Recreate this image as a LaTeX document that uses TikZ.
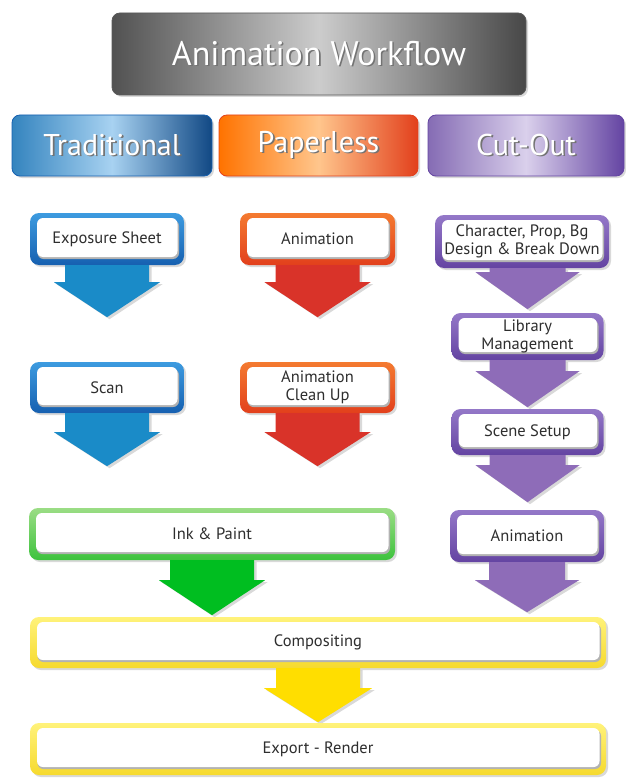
\documentclass[tikz,border=0pt]{standalone}
\usepackage{fontspec}
\setmainfont{PT Sans}
\usetikzlibrary{shadows,calc}

\definecolor{textgray}{HTML}{2E2E2E}
\definecolor{blueA}{HTML}{3D9BE0}
\definecolor{blueB}{HTML}{1660B0}
\definecolor{bluearrow}{HTML}{1A8BC8}
\definecolor{redA}{HTML}{F47A30}
\definecolor{redB}{HTML}{E2401C}
\definecolor{redarrow}{HTML}{D93329}
\definecolor{purpA}{HTML}{9478C8}
\definecolor{purpB}{HTML}{6444A2}
\definecolor{purparrow}{HTML}{8E6CB8}
\definecolor{greenA}{HTML}{9BDD85}
\definecolor{greenB}{HTML}{3DC23D}
\definecolor{greenarrow}{HTML}{00BE20}
\definecolor{yellowA}{HTML}{FFF27A}
\definecolor{yellowB}{HTML}{F6DA2E}
\definecolor{yellowarrow}{HTML}{FFDE00}

\newcommand{\shadowtext}[1]{\rlap{\hspace{1.6pt}\raisebox{-1.6pt}{\textcolor{black!55}{#1}}}#1}
% block arrow under a box: start, colour, half shaft, half head, shaft length, head length
\newcommand{\flowarrow}[6]{%
  \fill[#2, arrowshadow] (#1) ++(-#3,0) -- ++(0,#5) -- ++({#3-#4},0) -- ++(#4,#6)
    -- ++(#4,-#6) -- ++({#3-#4},0) -- ++(0,-#5) -- cycle;}

\begin{document}
\begin{tikzpicture}[x=1pt,y=-1pt,
  arrowshadow/.style={drop shadow={shadow xshift=2.5pt,shadow yshift=-2pt,opacity=.3}},
  hdrbox/.style={rectangle, rounded corners=8pt, text=white, line width=.8pt,
    drop shadow={shadow xshift=2pt,shadow yshift=-2pt,opacity=.3}},
  stepbox/.style={rectangle, rounded corners=9pt, inner sep=0pt, align=center,
    text=textgray, font=\fontsize{16.5}{17.5}\selectfont,
    drop shadow={shadow xshift=2pt,shadow yshift=-2pt,opacity=.3},
    path picture={
      \fill[black!30, rounded corners=6pt] ([shift={(7.5pt,-7pt)}]path picture bounding box.north west)
        rectangle ([shift={(-5pt,6pt)}]path picture bounding box.south east);
      \fill[white, rounded corners=6pt] ([shift={(7pt,-5pt)}]path picture bounding box.north west)
        rectangle ([shift={(-6.5pt,8pt)}]path picture bounding box.south east);}},
  bluebox/.style={stepbox, top color=blueA, bottom color=blueB},
  redbox/.style={stepbox, top color=redA, bottom color=redB},
  purpbox/.style={stepbox, top color=purpA, bottom color=purpB},
  greenbox/.style={stepbox, top color=greenA, bottom color=greenB},
  yellowbox/.style={stepbox, top color=yellowA, bottom color=yellowB}]
\useasboundingbox (0,0) rectangle (625,778);

% headings
\node[hdrbox, draw=black!65, left color=black!68, right color=black!72, middle color=black!20,
  minimum width=414pt, minimum height=82pt, font=\fontsize{34}{36}\selectfont] (title) at (319,54) {\shadowtext{Animation Workflow}};
\node[hdrbox, draw=blueB, left color=blueA!85!black, right color=blueB!75!black, middle color=blueA!45!white,
  minimum width=200pt, minimum height=61pt, font=\fontsize{30}{32}\selectfont] (trad) at (112,145.5) {\shadowtext{Traditional}};
\node[hdrbox, draw=redB, left color=orange!90!red, right color=redB, middle color=orange!45!white,
  minimum width=199pt, minimum height=61pt, font=\fontsize{30}{32}\selectfont] (paper) at (318.5,145.5) {\shadowtext{Paperless}};
\node[hdrbox, draw=purpB, left color=purpA!90!black, right color=purpB, middle color=purpA!35!white,
  minimum width=196pt, minimum height=61pt, font=\fontsize{30}{32}\selectfont] (cut) at (526,145.5) {\shadowtext{Cut-Out}};

% traditional
\node[bluebox, minimum width=154pt, minimum height=52pt] (expo) at (107,239) {Exposure Sheet};
\node[bluebox, minimum width=154pt, minimum height=51pt] (scan) at (107,387.5) {Scan};
\flowarrow{expo.south}{bluearrow}{42}{53}{17}{35}
\flowarrow{scan.south}{bluearrow}{42}{53}{19}{34}

% paperless
\node[redbox, minimum width=155pt, minimum height=52pt] (anim) at (317.5,239) {Animation};
\node[redbox, minimum width=155pt, minimum height=51pt] (clean) at (317.5,387.5) {Animation\\Clean Up};
\flowarrow{anim.south}{redarrow}{42}{53}{17}{35}
\flowarrow{clean.south}{redarrow}{42}{53}{19}{34}

% cut-out
\node[purpbox, minimum width=174pt, minimum height=53pt] (design) at (522,241.5) {Character, Prop, Bg\\Design \& Break Down};
\node[purpbox, minimum width=152pt, minimum height=47pt] (lib) at (527.5,336.5) {Library\\Management};
\node[purpbox, minimum width=152pt, minimum height=46pt] (scene) at (527.5,432) {Scene Setup};
\node[purpbox, minimum width=154pt, minimum height=52pt] (cutanim) at (527,536) {Animation};
\flowarrow{$(design.south)+(5.5,0)$}{purparrow}{38}{52}{4}{37}
\flowarrow{lib.south}{purparrow}{38}{52}{11}{36}
\flowarrow{scene.south}{purparrow}{38}{52}{10}{37}
\flowarrow{cutanim.south}{purparrow}{38}{52}{18}{32}

% common part
\node[greenbox, minimum width=366pt, minimum height=52pt] (ink) at (212,534) {Ink \& Paint};
\flowarrow{ink.south}{greenarrow}{42}{53}{20}{35}
\node[yellowbox, minimum width=576pt, minimum height=51pt] (comp) at (318,642.5) {Compositing};
\flowarrow{comp.south}{yellowarrow}{42}{54}{20}{34}
\node[yellowbox, minimum width=576pt, minimum height=52pt] (export) at (318,749) {Export - Render};
\end{tikzpicture}
\end{document}
